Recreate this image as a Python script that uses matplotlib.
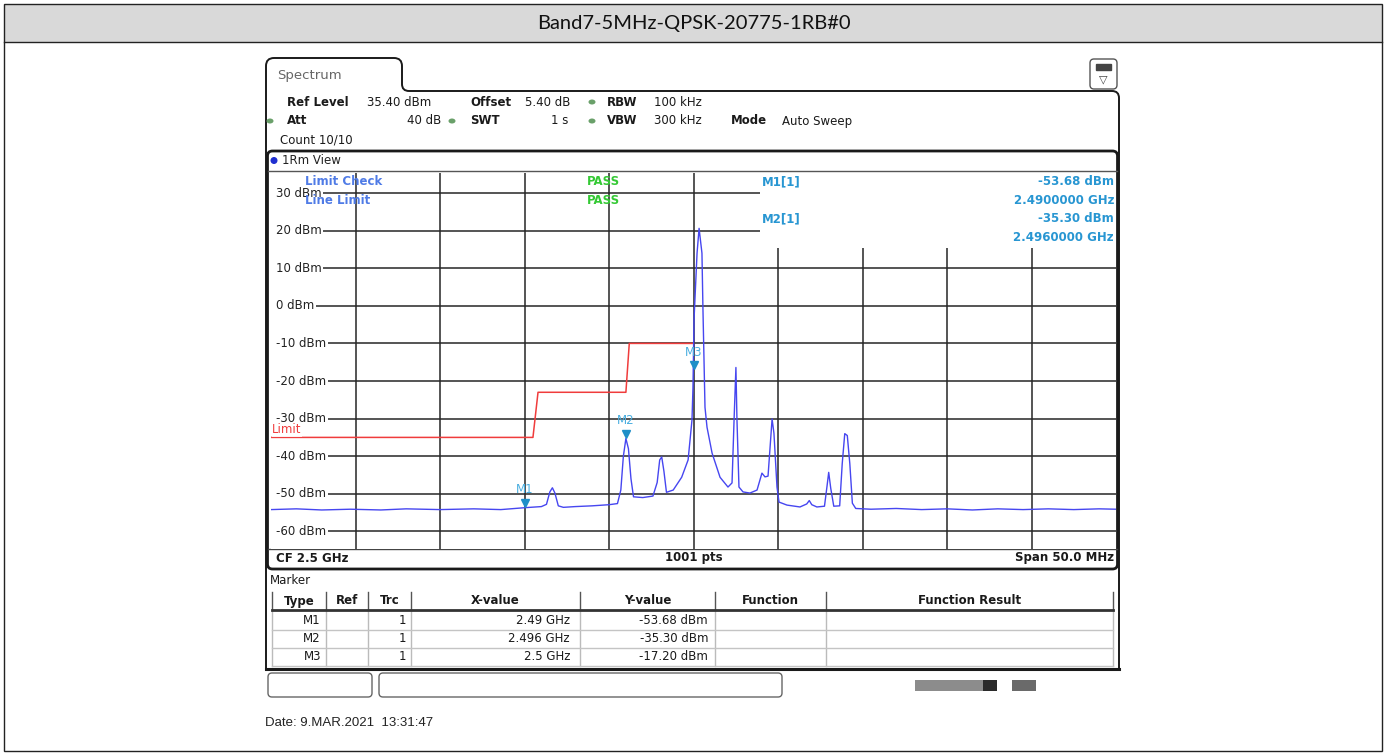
import matplotlib.pyplot as plt
import matplotlib.patches as mpatches
from matplotlib.path import Path
from matplotlib.transforms import offset_copy
import numpy as np

W, H = 1387, 754

title = "Band7-5MHz-QPSK-20775-1RB#0"

# analyzer settings
ref_level = 35.4
center_mhz = 2500.0
span_mhz = 50.0
n_points = 1001
ytick_dbm = [30, 20, 10, 0, -10, -20, -30, -40, -50, -60]

# trace 1 (MHz, dBm)
trace_mhz = [2475.0, 2476.5, 2478.0, 2479.7, 2481.5, 2483.0, 2485.0, 2487.0, 2488.6,
             2490.0, 2491.0, 2491.3, 2491.5, 2491.65, 2491.8, 2492.0, 2492.3, 2493.0,
             2494.0, 2495.0, 2495.5, 2495.7, 2495.85, 2496.0, 2496.15, 2496.3, 2496.45,
             2497.0, 2497.6, 2497.85, 2498.0, 2498.12, 2498.25, 2498.4, 2498.8, 2499.3,
             2499.68, 2499.91, 2499.97, 2500.03, 2500.21, 2500.33, 2500.5, 2500.56,
             2500.68, 2500.8, 2501.1, 2501.57, 2502.04, 2502.28, 2502.4, 2502.51,
             2502.57, 2502.69, 2502.93, 2503.34, 2503.76, 2504.05, 2504.23, 2504.41,
             2504.59, 2504.65, 2504.76, 2504.94, 2505.06, 2505.53, 2506.3, 2506.7,
             2506.85, 2507.0, 2507.3, 2507.75, 2507.9, 2508.0, 2508.12, 2508.3, 2508.65,
             2508.8, 2508.95, 2509.1, 2509.25, 2509.4, 2509.6, 2510.5, 2512.0, 2513.5,
             2515.0, 2516.5, 2518.0, 2519.5, 2521.0, 2522.5, 2524.0, 2525.0]
trace_dbm = [-54.2, -54.0, -54.3, -54.1, -54.3, -54.0, -54.2, -54.0, -54.2,
             -53.7, -53.4, -52.8, -49.5, -48.4, -49.8, -53.2, -53.6, -53.4,
             -53.2, -52.9, -52.6, -49.0, -40.0, -35.3, -38.0, -46.0, -50.8,
             -51.0, -50.6, -47.0, -41.0, -40.2, -44.0, -49.6, -49.0, -45.6,
             -41.0, -30.4, -21.6, -3.8, 14.0, 20.6, 14.0, -1.1,
             -27.0, -32.3, -39.2, -45.6, -48.2, -47.1, -30.4, -16.4,
             -30.0, -48.2, -49.5, -49.8, -49.0, -44.5, -45.5, -45.3,
             -33.9, -30.1, -33.9, -48.2, -52.2, -53.0, -53.5, -52.7,
             -51.8, -52.9, -53.5, -53.3, -48.0, -44.3, -48.5, -53.3, -53.2,
             -42.0, -34.0, -34.5, -42.0, -52.5, -53.9, -54.1, -53.9, -54.2,
             -54.0, -54.3, -54.0, -54.2, -54.0, -54.2, -54.0, -54.1]

# limit line
limit_mhz = [2475.0, 2490.5, 2490.8, 2496.0, 2496.2, 2500.0]
limit_dbm = [-35.0, -35.0, -23.0, -23.0, -10.0, -10.0]

# markers
marker_names = ["M1", "M2", "M3"]
marker_ghz = [2.49, 2.496, 2.5]
marker_dbm = [-53.68, -35.30, -17.20]

trace_col = "#4646f0"
mk_col = "#1f8fc8"
info_col = "#2896d2"
grid_col = "#262626"
frame_col = "#1a1a1a"

# plot area on the screenshot, in pixels
PX0, PX1, PY0, PY1 = 271, 1116, 172.7, 548.7


def pa(x, y):
    # pixel -> axes fraction of the trace window
    return (x - PX0) / (PX1 - PX0), (PY1 - y) / (PY1 - PY0)


fig = plt.figure(figsize=(W / 100, H / 100), dpi=100)
plt.rcParams['font.family'] = ['DejaVu Sans']

# background axes in pixel coords
bg = fig.add_axes([0, 0, 1, 1], zorder=0)
bg.set_xlim(0, W)
bg.set_ylim(H, 0)
bg.axis("off")

# outer frame + title bar
bg.add_patch(mpatches.Rectangle((4, 4), W - 9, 38, fc="#d9d9d9", ec="none"))
bg.add_patch(mpatches.Rectangle((4, 4), W - 9, H - 7, fc="none", ec="#222", lw=1))
bg.plot([4, W - 5], [42, 42], color="#222", lw=1)
bg.text(W / 2, 23, title, ha="center", va="center", fontsize=14.5,
        family=["Lato", "DejaVu Sans"], color="#111")

# screenshot outline with "Spectrum" tab
verts = [(266, 669), (266, 66), (266, 58), (274, 58), (394, 58), (402, 58), (402, 66),
         (402, 84), (402, 91), (409, 91), (1112, 91), (1119, 91), (1119, 98), (1119, 669)]
codes = [Path.MOVETO, Path.LINETO, Path.CURVE3, Path.CURVE3, Path.LINETO, Path.CURVE3,
         Path.CURVE3, Path.LINETO, Path.CURVE3, Path.CURVE3, Path.LINETO, Path.CURVE3,
         Path.CURVE3, Path.LINETO]
bg.add_patch(mpatches.PathPatch(Path(verts, codes), fc="none", ec=frame_col, lw=1.4))
bg.plot([266, 1119], [669, 669], color=frame_col, lw=2.2)
bg.text(277, 75, "Spectrum", fontsize=9.5, color="#666", va="center")

# icon box top right
bg.add_patch(mpatches.FancyBboxPatch((1090, 59), 27, 30, boxstyle="round,pad=0,rounding_size=4",
                                     fc="white", ec="#555", lw=1))
bg.add_patch(mpatches.Rectangle((1096, 64), 15, 6, fc="#444", ec="#444"))
bg.text(1103.5, 79, "\u25bd", ha="center", va="center", fontsize=8, color="#444")

# settings block
hdr = dict(fontsize=8.5, va="center", color="#1a1a1a")
bg.text(287, 102, "Ref Level", fontweight="bold", **hdr)
bg.text(367, 102, f"{ref_level:.2f} dBm", **hdr)
bg.text(470, 102, "Offset", fontweight="bold", **hdr)
bg.text(525, 102, "5.40 dB", **hdr)
bg.text(607, 102, "RBW", fontweight="bold", **hdr)
bg.text(654, 102, "100 kHz", **hdr)
bg.text(287, 121, "Att", fontweight="bold", **hdr)
bg.text(441, 121, "40 dB", ha="right", **hdr)
bg.text(470, 121, "SWT", fontweight="bold", **hdr)
bg.text(568, 121, "1 s", ha="right", **hdr)
bg.text(607, 121, "VBW", fontweight="bold", **hdr)
bg.text(654, 121, "300 kHz", **hdr)
bg.text(731, 121, "Mode", fontweight="bold", **hdr)
bg.text(782, 121, "Auto Sweep", **hdr)
bg.text(280, 140, "Count 10/10", **hdr)
for (dx, dy) in [(592, 102), (270, 121), (452, 121), (592, 121)]:
    bg.add_patch(mpatches.Ellipse((dx, dy), 7, 5, fc="#6aa06a", ec="none"))

# trace window frame
bg.add_patch(mpatches.FancyBboxPatch((267.5, 151), 850, 418, boxstyle="round,pad=0,rounding_size=5",
                                     fc="white", ec=frame_col, lw=2))
bg.plot([268, 1117], [171, 171], color="#555", lw=1)
bg.add_patch(mpatches.Circle((274, 160.5), 3.5, fc="#1f2fd0", ec="none"))
bg.text(282, 161, "1Rm View", fontsize=8.5, va="center", color="#222")
bg.plot([268, 1117], [549, 549], color="#444", lw=1)
bg.text(276, 558, f"CF {center_mhz / 1000:g} GHz", fontweight="bold", **hdr)
bg.text((PX0 + PX1) / 2, 558, f"{n_points} pts", fontweight="bold", ha="center", **hdr)
bg.text(1114, 558, f"Span {span_mhz:.1f} MHz", fontweight="bold", ha="right", **hdr)

# marker table
bg.text(270, 580, "Marker", **hdr)
cols = [272, 326, 368, 411, 580, 715, 826, 1113]
heads = ["Type", "Ref", "Trc", "X-value", "Y-value", "Function", "Function Result"]
for i, hname in enumerate(heads):
    bg.text((cols[i] + cols[i + 1]) / 2, 601, hname, ha="center", fontweight="bold", **hdr)
for cx in cols:
    bg.plot([cx, cx], [592, 609], color="#555", lw=1)
    bg.plot([cx, cx], [610, 666], color="#bbb", lw=1)
bg.plot([272, 1113], [609.5, 609.5], color="#333", lw=2)
for ry in [630, 648, 666]:
    bg.plot([272, 1113], [ry, ry], color="#c4c4c4", lw=1)
for i, name in enumerate(marker_names):
    ry = 621 + i * 18
    bg.text(321, ry, name, ha="right", **hdr)
    bg.text(406, ry, "1", ha="right", **hdr)
    bg.text(570, ry, f"{marker_ghz[i]:g} GHz", ha="right", **hdr)
    bg.text(708, ry, f"{marker_dbm[i]:.2f} dBm", ha="right", **hdr)

# softkey boxes and status icons
bg.add_patch(mpatches.FancyBboxPatch((268, 673), 104, 24, boxstyle="round,pad=0,rounding_size=4",
                                     fc="white", ec="#666", lw=1))
bg.add_patch(mpatches.FancyBboxPatch((379, 673), 403, 24, boxstyle="round,pad=0,rounding_size=4",
                                     fc="white", ec="#666", lw=1))
bg.add_patch(mpatches.Rectangle((915, 680), 68, 11, fc="#8c8c8c", ec="none"))
bg.add_patch(mpatches.Rectangle((983, 680), 14, 11, fc="#2a2a2a", ec="none"))
bg.add_patch(mpatches.Rectangle((1012, 680), 24, 11, fc="#6a6a6a", ec="none"))

bg.text(265, 723, "Date: 9.MAR.2021  13:31:47", fontsize=9.5, va="center",
        family=["Liberation Sans", "DejaVu Sans"], color="#222")

# ---- trace window ----
ax = fig.add_axes([PX0 / W, 1 - PY1 / H, (PX1 - PX0) / W, (PY1 - PY0) / H], zorder=1)
ax.set_xlim(center_mhz - span_mhz / 2, center_mhz + span_mhz / 2)
ax.set_ylim(ref_level - 100, ref_level)
ax.set_xticks(np.linspace(center_mhz - span_mhz / 2, center_mhz + span_mhz / 2, 11)[1:-1])
ax.set_yticks(ytick_dbm)
ax.grid(True, color=grid_col, lw=1.1)
ax.tick_params(length=0, labelbottom=False, labelleft=False)
for s in ax.spines.values():
    s.set_visible(False)

# the marker info block hides the grid in the top right corner
x0, y0 = pa(760, 248)
ax.add_patch(mpatches.Rectangle((x0, y0), 1 - x0, 1 - y0, transform=ax.transAxes,
                                fc="white", ec="none", zorder=1.6))
# blank strip at the left edge where the level labels sit
ax.add_patch(mpatches.Rectangle((0, 0), pa(277, 0)[0], 1, transform=ax.transAxes,
                                fc="white", ec="none", zorder=1.6))

for v in ytick_dbm:
    ax.text(pa(276, 0)[0], v, f"{v} dBm", transform=ax.get_yaxis_transform(), ha="left", va="center",
            fontsize=8.5, color="#222", zorder=3,
            bbox=dict(fc="white", ec="none", pad=1.2))

ax.plot(limit_mhz, limit_dbm, color="#f03c3c", lw=1.1, zorder=4)
ax.text(*pa(272, 430), "Limit", transform=ax.transAxes, ha="left", va="center", fontsize=8.5,
        color="#f03c3c", zorder=4, bbox=dict(fc="white", ec="none", pad=0.3, alpha=0.8))

ax.plot(trace_mhz, trace_dbm, color=trace_col, lw=1.0, zorder=5)

# marker triangles and labels
mk_f = [g * 1000 for g in marker_ghz]
tri = offset_copy(ax.transData, fig=fig, x=0, y=5, units="dots")
ax.plot(mk_f, marker_dbm, "v", ms=6, color=mk_col, transform=tri, zorder=6, ls="none")
for name, f, l in zip(marker_names, mk_f, marker_dbm):
    ax.annotate(name, (f, l), xytext=(0, 18), textcoords="offset pixels", ha="center", va="center",
                fontsize=8.5, color="#4aaee0", zorder=6)

# limit check / marker readouts
ax.text(*pa(305, 182), "Limit Check", transform=ax.transAxes, va="center", fontsize=8.5,
        fontweight="bold", color="#4f7be6", zorder=6)
ax.text(*pa(305, 201), "Line Limit", transform=ax.transAxes, va="center", fontsize=8.5,
        fontweight="bold", color="#4f7be6", zorder=6)
ax.text(*pa(587, 182), "PASS", transform=ax.transAxes, va="center", fontsize=8.5,
        fontweight="bold", color="#34c934", zorder=6)
ax.text(*pa(587, 201), "PASS", transform=ax.transAxes, va="center", fontsize=8.5,
        fontweight="bold", color="#34c934", zorder=6)
for i in range(2):
    yy = 182 + i * 37
    ax.text(*pa(762, yy), f"{marker_names[i]}[1]", transform=ax.transAxes, va="center",
            fontsize=8.5, fontweight="bold", color=info_col, zorder=6)
    ax.text(*pa(1114, yy), f"{marker_dbm[i]:.2f} dBm", transform=ax.transAxes, va="center",
            ha="right", fontsize=8.5, fontweight="bold", color=info_col, zorder=6)
    ax.text(*pa(1114, yy + 18.5), f"{marker_ghz[i]:.7f} GHz", transform=ax.transAxes, va="center",
            ha="right", fontsize=8.5, fontweight="bold", color=info_col, zorder=6)

fig.savefig("out.png", dpi=100)
